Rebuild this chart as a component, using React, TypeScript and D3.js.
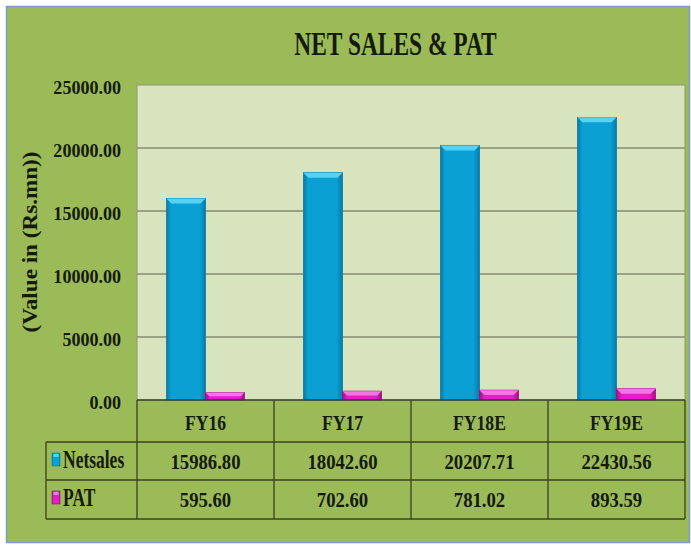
import React, { useEffect, useRef } from 'react';
import * as d3 from 'd3';

const anos = ['FY16', 'FY17', 'FY18E', 'FY19E'];
const netsales = [15986.8, 18042.6, 20207.71, 22430.56];
const pat = [595.6, 702.6, 781.02, 893.59];
const ticks = [0, 5000, 10000, 15000, 20000, 25000];

const series = [
  { nome: 'Netsales', valores: netsales, base: '#0aa0d3', claro: '#55d2f4', escuro: '#087aa6' },
  { nome: 'PAT', valores: pat, base: '#e21fc3', claro: '#f474ea', escuro: '#9e0f88' },
];

const FONTE = '"Liberation Serif", "Times New Roman", serif';
const COR_TEXTO = '#151a0c';

export default function App() {
  const svgRef = useRef<SVGSVGElement>(null);

  useEffect(() => {
    const svg = d3.select(svgRef.current);
    svg.selectAll('*').remove();

    const largura = 691;
    const altura = 546;
    const plotL = 137, plotR = 685, plotT = 85, plotB = 400;
    const tabL = 46;
    const linhas = [400, 442, 480, 519];

    const x = d3.scaleBand().domain(anos).range([plotL, plotR]).padding(0);
    const y = d3.scaleLinear().domain([0, 25000]).range([plotB, plotT]);
    const larguraBarra = x.bandwidth() * 0.285;

    const defs = svg.append('defs');
    series.forEach((s, i) => {
      const g = defs.append('linearGradient').attr('id', 'grad' + i).attr('x1', 0).attr('x2', 1).attr('y1', 0).attr('y2', 0);
      g.append('stop').attr('offset', '0%').attr('stop-color', s.escuro);
      g.append('stop').attr('offset', '12%').attr('stop-color', s.base);
      g.append('stop').attr('offset', '85%').attr('stop-color', s.base);
      g.append('stop').attr('offset', '100%').attr('stop-color', s.escuro);
    });

    // texto comprimido na horizontal (a imagem original está esticada)
    const texto = (str: string, px: number, py: number, size: number, sx: number, anchor = 'middle') =>
      svg.append('text')
        .attr('transform', `translate(${px},${py}) scale(${sx},1)`)
        .attr('text-anchor', anchor)
        .attr('fill', COR_TEXTO)
        .style('font-family', FONTE)
        .style('font-weight', 'bold')
        .style('font-size', size + 'px')
        .text(str);

    // fundo
    svg.append('rect').attr('width', largura).attr('height', altura).attr('fill', '#ffffff');
    svg.append('rect')
      .attr('x', 6.5).attr('y', 6.5).attr('width', 683).attr('height', 536)
      .attr('fill', '#9bbb59').attr('stroke', '#7d9cc8').attr('stroke-width', 1.5);

    // área do gráfico
    svg.append('rect')
      .attr('x', plotL).attr('y', plotT).attr('width', plotR - plotL).attr('height', plotB - plotT)
      .attr('fill', '#d8e4bd').attr('stroke', '#8d9a78').attr('stroke-width', 1);

    svg.selectAll('.grid')
      .data(ticks.slice(1, -1))
      .enter()
      .append('line')
      .attr('x1', plotL).attr('x2', plotR)
      .attr('y1', d => y(d)).attr('y2', d => y(d))
      .attr('stroke', '#878d72').attr('stroke-width', 1.4);

    ticks.forEach(t => texto(d3.format('.2f')(t), 121, y(t) + 9, 19, 0.95, 'end'));

    texto('NET SALES & PAT', 395.5, 55, 33, 0.71);

    svg.append('text')
      .attr('transform', 'translate(37,242) rotate(-90)')
      .attr('text-anchor', 'middle')
      .attr('fill', COR_TEXTO)
      .attr('textLength', 181)
      .attr('lengthAdjust', 'spacingAndGlyphs')
      .style('font-family', FONTE)
      .style('font-weight', 'bold')
      .style('font-size', '20px')
      .text('(Value in (Rs.mn))');

    // barras com chanfro
    series.forEach((s, si) => {
      const g = svg.append('g');
      s.valores.forEach((v, i) => {
        const cx = (x(anos[i]) as number) + x.bandwidth() / 2;
        const bx = si === 0 ? cx - larguraBarra : cx;
        const by = y(v);
        const bh = plotB - by;
        const b = Math.min(5, bh / 2);
        g.append('rect').attr('x', bx).attr('y', by).attr('width', larguraBarra).attr('height', bh)
          .attr('fill', `url(#grad${si})`).attr('stroke', s.escuro).attr('stroke-width', 0.8);
        g.append('path')
          .attr('d', `M${bx},${by}L${bx + larguraBarra},${by}L${bx + larguraBarra - b},${by + b}L${bx + b},${by + b}Z`)
          .attr('fill', s.claro);
      });
    });

    // tabela de dados
    const cor = '#38421f';
    const linha = (x1: number, y1: number, x2: number, y2: number) =>
      svg.append('line').attr('x1', x1).attr('y1', y1).attr('x2', x2).attr('y2', y2)
        .attr('stroke', cor).attr('stroke-width', 1.3);

    linha(plotL, plotB, plotR, plotB);
    linhas.slice(1).forEach(ly => linha(tabL, ly, plotR, ly));
    linha(tabL, linhas[1], tabL, linhas[3]);
    [plotL, ...anos.map(a => (x(a) as number) + x.bandwidth())].forEach(lx => linha(lx, plotB, lx, linhas[3]));

    anos.forEach(a => texto(a, (x(a) as number) + x.bandwidth() / 2, 430, 20, 0.88));

    const baselines = [469, 507];
    series.forEach((s, si) => {
      s.valores.forEach((v, i) => {
        texto(d3.format('.2f')(v), (x(anos[i]) as number) + x.bandwidth() / 2, baselines[si], 22, 0.85);
      });
      const ky = baselines[si] - 16;
      svg.append('rect').attr('x', 52).attr('y', ky).attr('width', 8).attr('height', 13)
        .attr('fill', `url(#grad${si})`).attr('stroke', s.escuro).attr('stroke-width', 0.6);
      svg.append('rect').attr('x', 53.5).attr('y', ky + 1).attr('width', 5).attr('height', 3).attr('fill', s.claro);
      texto(s.nome, 63, baselines[si] - 1, 25, 0.7, 'start');
    });
  }, []);

  return (
    <svg
      ref={svgRef}
      width={691}
      height={546}
      style={{ position: 'absolute', left: 0, top: 0, display: 'block' }}
    />
  );
}
